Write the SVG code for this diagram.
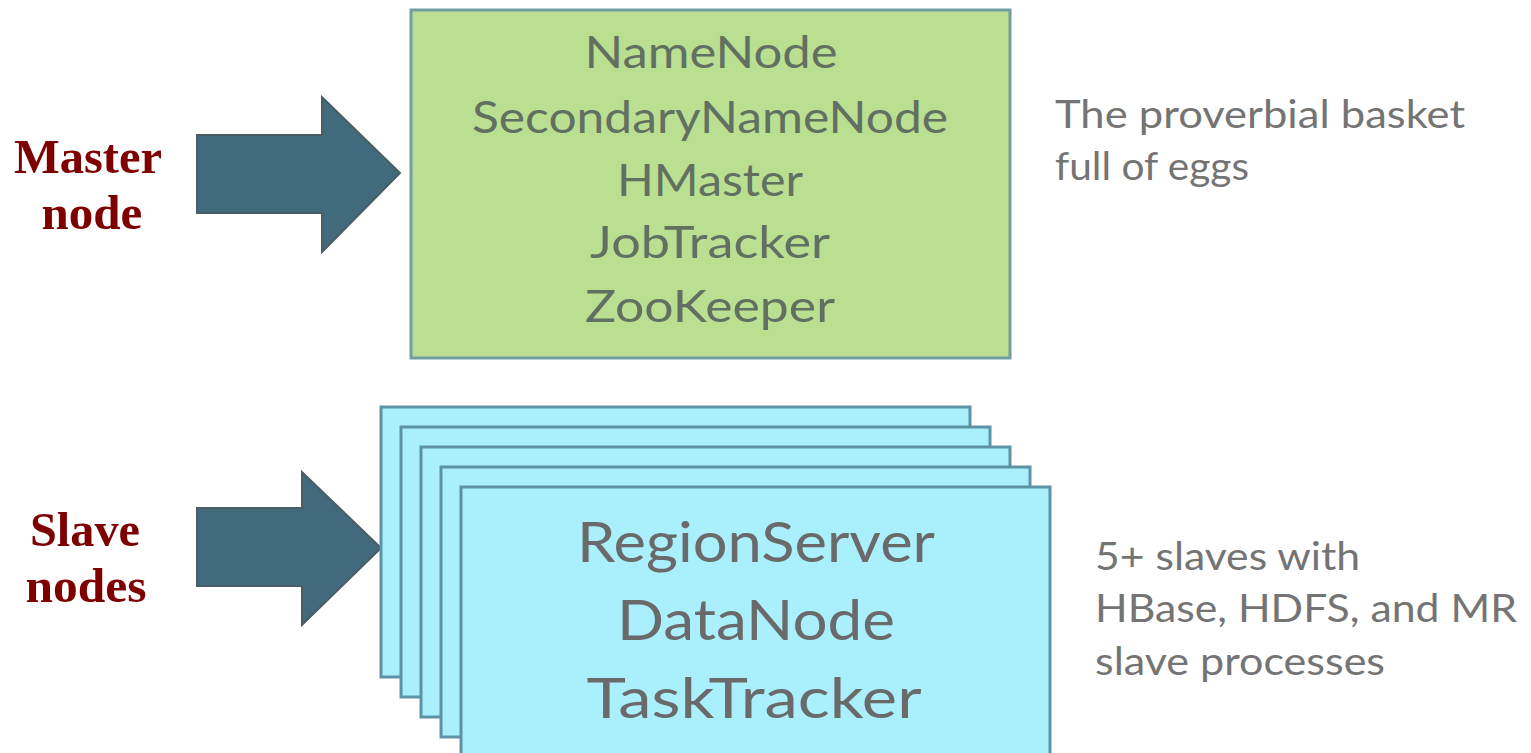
<svg xmlns="http://www.w3.org/2000/svg" width="1531" height="753" viewBox="0 0 1531 753">
<style>
.arrow{fill:#416b7c;stroke:#4b5d63;stroke-width:2}
.mbox{fill:#badf91;stroke:#6f9ea3;stroke-width:3}
.sbox{fill:#a9effc;stroke:#5e93a6;stroke-width:3}
.mt{font-family:Lato,"Open Sans",sans-serif;font-size:45px;fill:#627062;text-anchor:middle}
.st{font-family:Lato,"Open Sans",sans-serif;font-size:57px;fill:#6a6a6a;text-anchor:middle}
.note{font-family:Lato,"Open Sans",sans-serif;font-size:38px;fill:#747474}
.lbl{font-family:"Liberation Serif",serif;font-size:49px;font-weight:bold;fill:#7f0000;text-anchor:middle}
</style>
<rect width="1531" height="753" fill="#ffffff"/>
<g id="master-label">
<text class="lbl" x="88" y="173" textLength="148" lengthAdjust="spacingAndGlyphs">Master</text>
<text class="lbl" x="92" y="229">node</text>
</g>
<g id="slave-label">
<text class="lbl" x="85" y="546" textLength="110" lengthAdjust="spacingAndGlyphs">Slave</text>
<text class="lbl" x="86" y="602" textLength="121" lengthAdjust="spacingAndGlyphs">nodes</text>
</g>
<g id="connectors">
<polygon class="arrow" points="197,135 322,135 322,97 400,173 322,252 322,213 197,213"/>
<polygon class="arrow" points="197,508 302,508 302,472 381,548 302,625 302,586 197,586"/>
</g>
<g id="master-node">
<rect class="mbox" x="411" y="10" width="599" height="348"/>
<text class="mt" x="711" y="68" textLength="253" lengthAdjust="spacingAndGlyphs">NameNode</text>
<text class="mt" x="710" y="133" textLength="476" lengthAdjust="spacingAndGlyphs">SecondaryNameNode</text>
<text class="mt" x="710" y="196" textLength="186" lengthAdjust="spacingAndGlyphs">HMaster</text>
<text class="mt" x="710" y="258" textLength="240" lengthAdjust="spacingAndGlyphs">JobTracker</text>
<text class="mt" x="710" y="322" textLength="250" lengthAdjust="spacingAndGlyphs">ZooKeeper</text>
</g>
<g id="slave-nodes">
<rect class="sbox" x="381" y="407" width="589" height="270"/>
<rect class="sbox" x="401" y="427" width="589" height="270"/>
<rect class="sbox" x="421" y="447" width="589" height="270"/>
<rect class="sbox" x="441" y="467" width="589" height="270"/>
<rect class="sbox" x="461" y="487" width="589" height="290"/>
<text class="st" x="756" y="562" textLength="358" lengthAdjust="spacingAndGlyphs">RegionServer</text>
<text class="st" x="756" y="640" textLength="278" lengthAdjust="spacingAndGlyphs">DataNode</text>
<text class="st" x="754" y="718" textLength="335" lengthAdjust="spacingAndGlyphs">TaskTracker</text>
</g>
<g id="master-note">
<text class="note" x="1055" y="128" textLength="410" lengthAdjust="spacingAndGlyphs">The proverbial basket</text>
<text class="note" x="1055" y="180" textLength="194" lengthAdjust="spacingAndGlyphs">full of eggs</text>
</g>
<g id="slave-note">
<text class="note" x="1095" y="570" textLength="265" lengthAdjust="spacingAndGlyphs">5+ slaves with</text>
<text class="note" x="1095" y="622" textLength="422" lengthAdjust="spacingAndGlyphs">HBase, HDFS, and MR</text>
<text class="note" x="1095" y="675" textLength="290" lengthAdjust="spacingAndGlyphs">slave processes</text>
</g>
</svg>
